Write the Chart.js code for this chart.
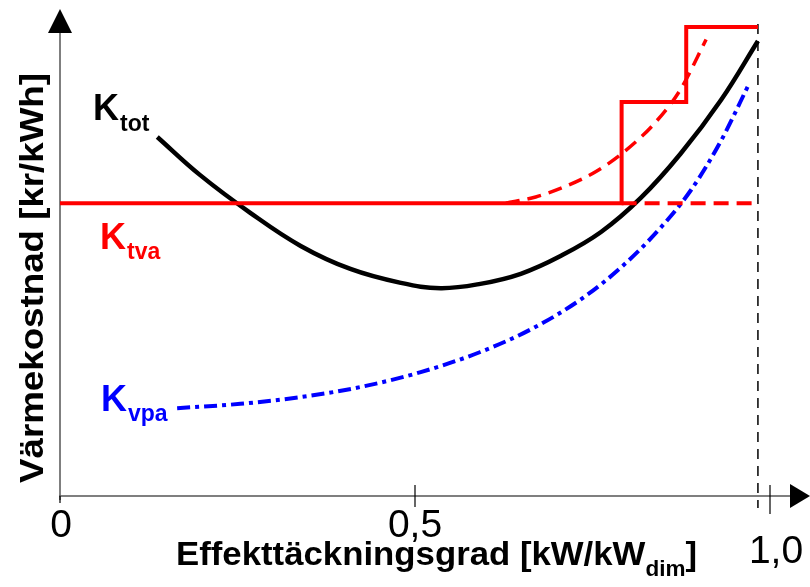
<!DOCTYPE html>
<html>
<head>
<meta charset="utf-8">
<script src="https://cdn.jsdelivr.net/npm/chart.js@4/dist/chart.umd.min.js"></script>
<style>
html,body{margin:0;padding:0;background:#fff;}
canvas{display:block;}
</style>
</head>
<body>
<canvas id="c" width="810" height="587"></canvas>
<script>
// ---- Data (x: effekttäckningsgrad, y: relative cost) ----
const xTickValues = [0, 0.5, 1.0];
const xTickLabels = ['0', '0,5', '1,0'];
const xDimLine = 0.983;

const ktotX = [0.137, 0.197, 0.268, 0.339, 0.409, 0.480, 0.536, 0.592, 0.649, 0.705, 0.762, 0.818, 0.874, 0.931, 0.983];
const ktotY = [7.48, 6.69, 5.90, 5.21, 4.73, 4.44, 4.33, 4.42, 4.63, 5.00, 5.50, 6.21, 7.13, 8.25, 9.48];

const kvpaX = [0.165, 0.254, 0.339, 0.423, 0.508, 0.592, 0.663, 0.733, 0.790, 0.846, 0.889, 0.931, 0.970];
const kvpaY = [1.83, 1.92, 2.06, 2.27, 2.58, 3.00, 3.47, 4.09, 4.76, 5.59, 6.38, 7.40, 8.57];

const ktvaStepX = [0, 0.791, 0.791, 0.882, 0.882, 0.983];
const ktvaStepY = [6.10, 6.10, 8.21, 8.21, 9.77, 9.77];

const ktvaFlatDashX = [0.791, 0.983];
const ktvaFlatDashY = [6.10, 6.10];

const ktvaCurveX = [0.628, 0.670, 0.712, 0.755, 0.797, 0.839, 0.874, 0.910];
const ktvaCurveY = [6.10, 6.23, 6.45, 6.76, 7.20, 7.79, 8.47, 9.51];

function pts(xs, ys) { return xs.map((x, i) => ({ x: x, y: ys[i] })); }

const FONT = '"Liberation Sans", Arial, Helvetica, sans-serif';

const decor = {
  id: 'decor',
  beforeDatasetsDraw(chart) {
    const ctx = chart.ctx;
    const xs = chart.scales.x, ys = chart.scales.y;
    const x0 = xs.getPixelForValue(0);
    const yb = ys.getPixelForValue(0);
    ctx.save();
    const xd = xs.getPixelForValue(xDimLine);
    ctx.strokeStyle = '#000';
    ctx.lineWidth = 1.5;
    ctx.setLineDash([10, 7]);
    ctx.beginPath();
    ctx.moveTo(xd, ys.getPixelForValue(10) + 8);
    ctx.lineTo(xd, yb + 12);
    ctx.stroke();
    ctx.setLineDash([]);

    ctx.strokeStyle = '#555';
    ctx.lineWidth = 1.5;
    ctx.beginPath();
    ctx.moveTo(x0, yb + 4);
    ctx.lineTo(x0, 30);
    ctx.moveTo(x0 - 1, yb);
    ctx.lineTo(792, yb);
    ctx.stroke();
    ctx.fillStyle = '#000';
    ctx.beginPath();
    ctx.moveTo(x0, 9); ctx.lineTo(x0 - 12, 33); ctx.lineTo(x0 + 12, 33); ctx.closePath();
    ctx.fill();
    ctx.beginPath();
    ctx.moveTo(810, yb); ctx.lineTo(790, yb - 12); ctx.lineTo(790, yb + 12); ctx.closePath();
    ctx.fill();

    ctx.strokeStyle = '#000';
    ctx.lineWidth = 1.2;
    ctx.beginPath();
    const tx0 = xs.getPixelForValue(xTickValues[0]);
    ctx.moveTo(tx0, yb); ctx.lineTo(tx0, yb + 7);
    const tx1 = xs.getPixelForValue(xTickValues[1]);
    ctx.moveTo(tx1, yb - 11); ctx.lineTo(tx1, yb + 11);
    const tx2 = xs.getPixelForValue(xTickValues[2]);
    ctx.moveTo(tx2, yb - 11); ctx.lineTo(tx2, yb + 18);
    ctx.stroke();
    ctx.restore();
  },
  afterDraw(chart) {
    const ctx = chart.ctx;
    const xs = chart.scales.x;
    ctx.save();
    ctx.fillStyle = '#000';
    ctx.font = '39px ' + FONT;
    ctx.textAlign = 'center';
    ctx.textBaseline = 'alphabetic';
    ctx.fillText(xTickLabels[0], xs.getPixelForValue(xTickValues[0]) + 1, 537);
    ctx.fillText(xTickLabels[1], xs.getPixelForValue(xTickValues[1]), 537);
    ctx.fillText(xTickLabels[2], xs.getPixelForValue(xTickValues[2]) + 6, 563);

    ctx.textAlign = 'left';
    const mainF = 'bold 34px ' + FONT, subF = 'bold 22px ' + FONT;
    const t1 = 'Effekttäckningsgrad [kW/kW', t2 = 'dim', t3 = ']';
    ctx.font = mainF; const w1 = ctx.measureText(t1).width; const w3 = ctx.measureText(t3).width;
    ctx.font = subF; const w2 = ctx.measureText(t2).width;
    const W = w1 + w2 + w3;
    const s = 521 / W;
    ctx.save();
    ctx.translate(176, 0);
    ctx.scale(s, 1);
    let x = 0;
    ctx.font = mainF; ctx.fillText(t1, x, 565); x += w1;
    ctx.font = subF; ctx.fillText(t2, x, 576); x += w2;
    ctx.font = mainF; ctx.fillText(t3, x, 565);
    ctx.restore();

    ctx.save();
    ctx.font = 'bold 34px ' + FONT;
    const yt = 'Värmekostnad [kr/kWh]';
    const wy = ctx.measureText(yt).width;
    ctx.translate(43, 278);
    ctx.rotate(-Math.PI / 2);
    ctx.scale(410 / wy, 1);
    ctx.textAlign = 'center';
    ctx.fillText(yt, 0, 0);
    ctx.restore();

    function klabel(sub, color, xk, yb, ysb) {
      ctx.fillStyle = color;
      ctx.textAlign = 'left';
      ctx.font = 'bold 36px ' + FONT;
      ctx.fillText('K', xk, yb);
      const wk = ctx.measureText('K').width;
      ctx.font = 'bold 23px ' + FONT;
      ctx.fillText(sub, xk + wk + 1, ysb);
    }
    klabel('tot', '#000', 93, 120, 131);
    klabel('tva', '#ff0000', 100, 249, 259);
    klabel('vpa', '#0000ff', 101, 411, 421);
    ctx.restore();
  }
};

new Chart(document.getElementById('c'), {
  type: 'scatter',
  data: {
    datasets: [
      { data: pts(ktvaStepX, ktvaStepY), showLine: true, borderColor: '#ff0000', borderWidth: 4, pointRadius: 0, tension: 0, borderJoinStyle: 'miter' },
      { data: pts(ktvaFlatDashX, ktvaFlatDashY), showLine: true, borderColor: '#ff0000', borderWidth: 4, pointRadius: 0, borderDash: [15, 8] },
      { data: pts(ktvaCurveX, ktvaCurveY), showLine: true, borderColor: '#ff0000', borderWidth: 3.5, pointRadius: 0, borderDash: [14, 8], cubicInterpolationMode: 'monotone' },
      { data: pts(kvpaX, kvpaY), showLine: true, borderColor: '#0000ff', borderWidth: 4, pointRadius: 0, borderDash: [13, 5, 4, 5], cubicInterpolationMode: 'monotone' },
      { data: pts(ktotX, ktotY), showLine: true, borderColor: '#000', borderWidth: 4.5, pointRadius: 0, tension: 0.4 }
    ]
  },
  options: {
    responsive: false,
    animation: false,
    layout: { padding: { left: 60, right: 40, top: 16, bottom: 91 } },
    plugins: { legend: { display: false }, tooltip: { enabled: false } },
    scales: {
      x: { type: 'linear', min: 0, max: 1, display: false },
      y: { type: 'linear', min: 0, max: 10, display: false }
    },
    elements: { line: { fill: false } }
  },
  plugins: [decor]
});
</script>
</body>
</html>
